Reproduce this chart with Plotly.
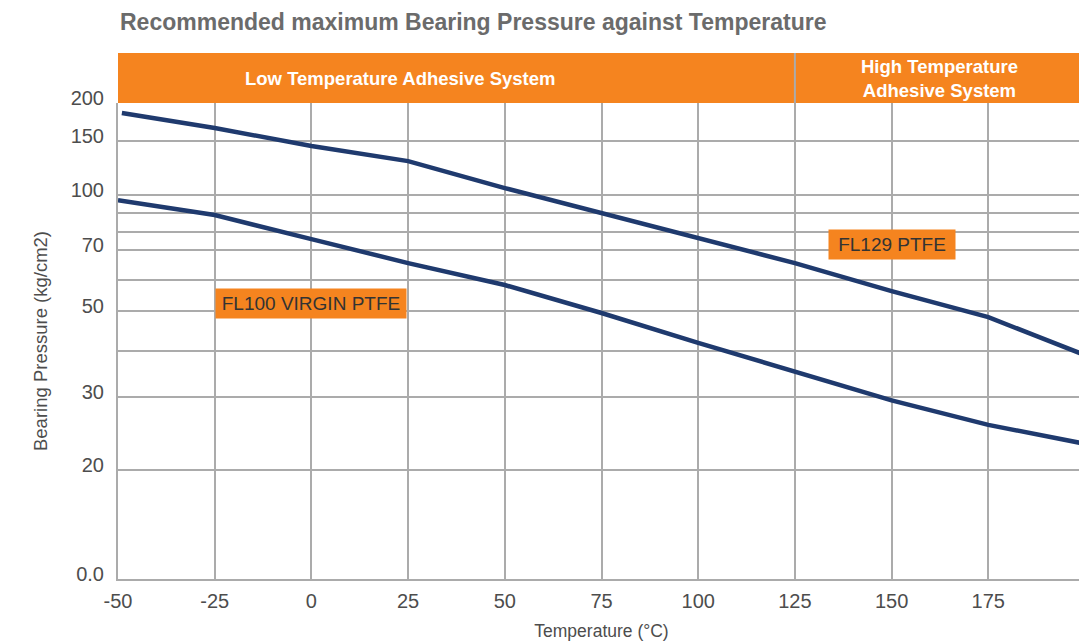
import math
import plotly.graph_objects as go

# ---- data ----
temps_fl129 = [-49, -25, 0, 25, 50, 75, 100, 125, 150, 175, 188, 200]
press_fl129 = [163.5, 149.5, 134.2, 122.6, 104.3, 89.8, 76.8, 66.5, 56.2, 48.1, 42.7, 38.3]

temps_fl100 = [-50, -25, 0, 25, 50, 75, 100, 125, 150, 175, 200]
press_fl100 = [97.0, 88.7, 76.8, 66.5, 58.3, 49.3, 41.2, 34.6, 29.2, 25.2, 22.5]

x_ticks = [-50, -25, 0, 25, 50, 75, 100, 125, 150, 175]
y_tickvals = [10, 19.2, 29.8, 39.2, 50, 60, 71.9, 80, 90, 100, 138, 173.7]
y_ticktext = ["0.0", "20", "30", "", "50", "", "70", "", "", "100", "150", "200"]

label_fl100 = ("FL100 VIRGIN PTFE", 0, 52.2)
label_fl129 = ("FL129 PTFE", 150, 74.5)

ORANGE = "#F5841F"
NAVY = "#1F3A6E"
GRID = "#ABABAB"
TXT = "#4D4D4D"
FONT = "Liberation Sans"

# page body has an 8px margin -> figure is 8px smaller and everything shifted
W, H = 1079, 636

fig = go.Figure()
fig.add_trace(go.Scatter(x=temps_fl129, y=press_fl129, mode="lines",
                         line=dict(color=NAVY, width=4.5), name="FL129 PTFE",
                         cliponaxis=False))
fig.add_trace(go.Scatter(x=temps_fl100, y=press_fl100, mode="lines",
                         line=dict(color=NAVY, width=4.5), name="FL100 VIRGIN PTFE",
                         cliponaxis=False))

# orange header band
fig.add_shape(type="rect", xref="paper", yref="paper", x0=0, x1=1.005, y0=1.0, y1=1.105,
              fillcolor=ORANGE, line_width=0, layer="below")
# divider between systems
fig.add_shape(type="line", xref="x", yref="paper", x0=125, x1=125, y0=1.0, y1=1.105,
              line=dict(color=GRID, width=2))
# right edge gridline at 200
fig.add_shape(type="line", xref="x", yref="paper", x0=200, x1=200, y0=0, y1=1,
              line=dict(color=GRID, width=2), layer="below")

fig.add_annotation(x=23, xref="x", y=1.0525, yref="paper", yanchor="middle",
                   text="<b>Low Temperature Adhesive System</b>",
                   showarrow=False, font=dict(family=FONT, size=18.5, color="white"))
fig.add_annotation(x=162.5, xref="x", y=1.0525, yref="paper", yanchor="middle",
                   text="<b>High Temperature<br>Adhesive System</b>",
                   showarrow=False, align="center",
                   font=dict(family=FONT, size=18.5, color="white"))

# series labels (log axis -> annotation y in log10 units)
for txt, lx, ly, w in [(label_fl100[0], label_fl100[1], label_fl100[2], 184),
                       (label_fl129[0], label_fl129[1], label_fl129[2], 120)]:
    fig.add_annotation(x=lx, y=math.log10(ly), text=txt, showarrow=False,
                       bgcolor=ORANGE, font=dict(family=FONT, size=19, color="#333333"),
                       width=w, height=23, borderpad=3)

fig.update_layout(
    width=W, height=H,
    margin=dict(l=110, r=2, t=95, b=65, autoexpand=False),
    paper_bgcolor="white", plot_bgcolor="white",
    showlegend=False,
    title=dict(text="<b>Recommended maximum Bearing Pressure against Temperature</b>",
               x=112 / W, xref="container", xanchor="left",
               y=1 - 14 / H, yref="container", yanchor="middle",
               font=dict(family=FONT, size=23, color="#6B6B6B")),
    font=dict(family=FONT, color=TXT),
)
fig.update_xaxes(range=[-50, 200], tickvals=x_ticks, ticktext=[str(v) for v in x_ticks],
                 showgrid=True, gridcolor=GRID, gridwidth=2, automargin=False,
                 showline=True, linecolor=GRID, linewidth=2, mirror=False,
                 zeroline=False, ticks="", ticklabelstandoff=3,
                 tickfont=dict(family=FONT, size=20, color=TXT),
                 title=dict(text="Temperature (°C)", font=dict(family=FONT, size=17.5, color=TXT),
                            standoff=14))
fig.update_yaxes(type="log", range=[1, 2.2398], tickvals=y_tickvals, ticktext=y_ticktext,
                 showgrid=True, gridcolor=GRID, gridwidth=2, automargin=False,
                 showline=True, linecolor=GRID, linewidth=2,
                 zeroline=False, ticks="", ticklabelstandoff=8, ticklabelshift=-5,
                 tickfont=dict(family=FONT, size=20, color=TXT),
                 title=dict(text="Bearing Pressure (kg/cm2)", font=dict(family=FONT, size=18.5, color=TXT),
                            standoff=18))

fig.write_html("out.html")
